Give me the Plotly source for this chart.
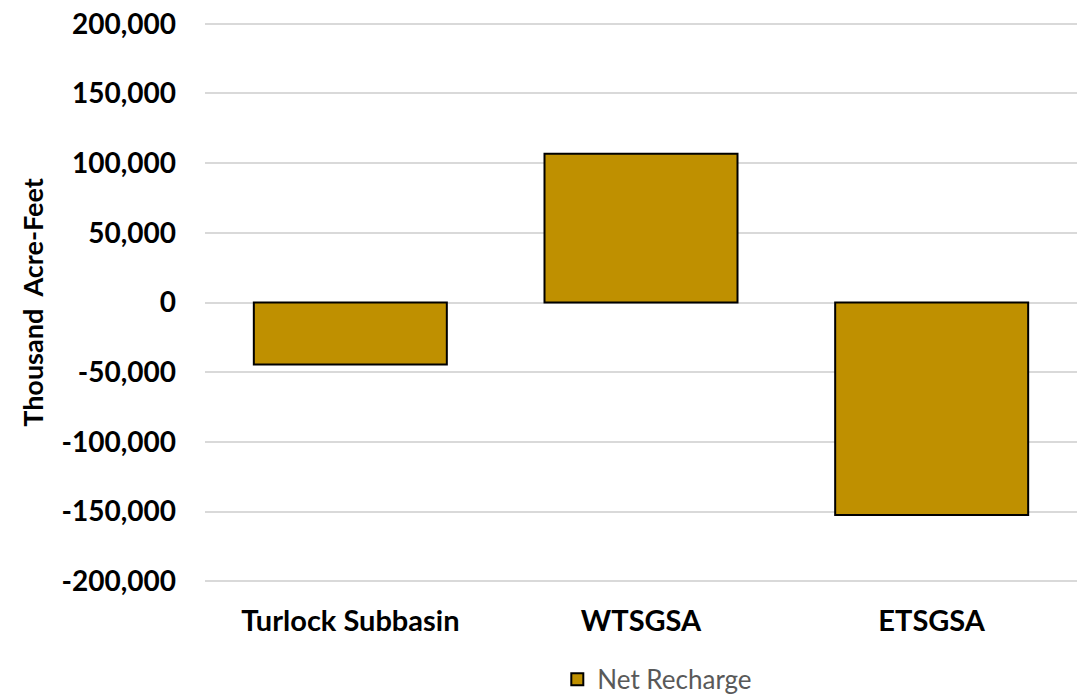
import plotly.graph_objects as go

# Net recharge by area (thousand acre-feet)
categories = ["Turlock Subbasin", "WTSGSA", "ETSGSA"]
net_recharge = [-44500, 106800, -152500]
series_name = "Net Recharge"
y_ticks = [-200000, -150000, -100000, -50000, 0, 50000, 100000, 150000, 200000]
y_title = "Thousand  Acre-Feet"

W, H = 1079, 694
FONT = "Lato"

# tick labels with a plain hyphen for negatives
y_ticktext = [f"{v:,d}" for v in y_ticks]

fig = go.Figure()
fig.add_trace(go.Bar(
    x=categories,
    y=net_recharge,
    name=series_name,
    marker=dict(color="#BF9000", line=dict(color="#000000", width=2)),
    showlegend=True,
))

fig.update_layout(
    width=W,
    height=H,
    margin=dict(l=205, r=2, t=21, b=110, autoexpand=False),
    paper_bgcolor="white",
    plot_bgcolor="white",
    bargap=0.336,
    font=dict(family=FONT, color="#000000"),
    showlegend=True,
    legend=dict(
        orientation="h",
        xref="container",
        yref="container",
        x=0.5165,
        xanchor="left",
        y=0.021,
        yanchor="middle",
        font=dict(family=FONT, size=26, color="#595959"),
        itemwidth=30,
        bgcolor="rgba(0,0,0,0)",
    ),
    xaxis=dict(
        showgrid=False,
        showline=False,
        zeroline=False,
        ticks="",
        automargin=False,
        tickfont=dict(family=FONT, size=29, color="#000000", weight="bold"),
        ticklabelstandoff=17,
    ),
    yaxis=dict(
        range=[-202000, 202000],
        tickvals=y_ticks,
        ticktext=y_ticktext,
        showgrid=True,
        gridcolor="#D9D9D9",
        gridwidth=2,
        zeroline=False,
        showline=False,
        ticks="",
        automargin=False,
        tickfont=dict(family=FONT, size=28, color="#000000", weight="bold"),
        ticklabelstandoff=28,
        title=dict(
            text=y_title,
            font=dict(family=FONT, size=27, color="#000000", weight="bold"),
            standoff=10,
        ),
    ),
)

fig.write_html("out.html")
